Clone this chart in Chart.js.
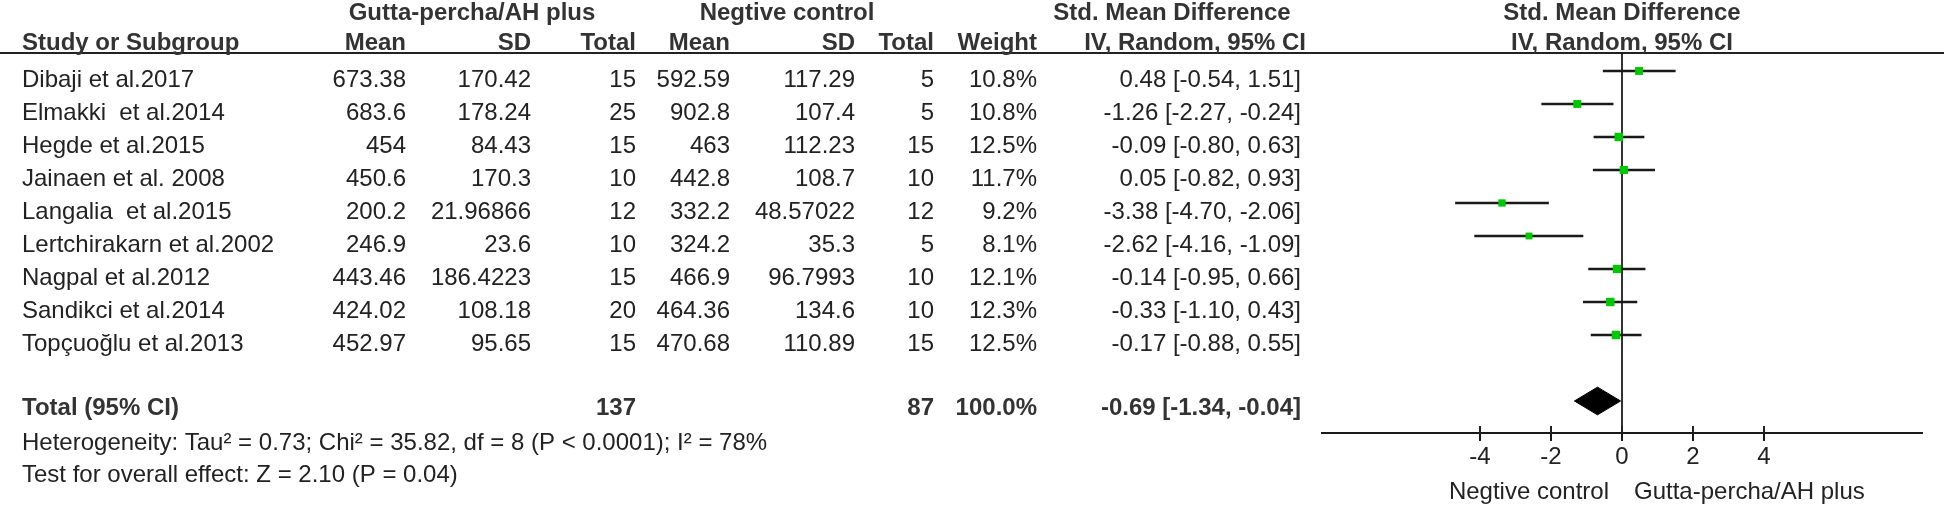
<!DOCTYPE html>
<html>
<head>
<meta charset="utf-8">
<script src="https://cdn.jsdelivr.net/npm/chart.js@4/dist/chart.umd.min.js"></script>
<style>
  html, body { margin: 0; padding: 0; background: #fff; }
  canvas { display: block; }
</style>
</head>
<body>
<canvas id="forest" width="1946" height="505"></canvas>
<script>
// Data
const studies = ['Dibaji et al.2017', 'Elmakki  et al.2014', 'Hegde et al.2015', 'Jainaen et al. 2008',
  'Langalia  et al.2015', 'Lertchirakarn et al.2002', 'Nagpal et al.2012', 'Sandikci et al.2014', 'Topçuoğlu et al.2013'];
const gpMean = ['673.38', '683.6', '454', '450.6', '200.2', '246.9', '443.46', '424.02', '452.97'];
const gpSD = ['170.42', '178.24', '84.43', '170.3', '21.96866', '23.6', '186.4223', '108.18', '95.65'];
const gpTotal = [15, 25, 15, 10, 12, 10, 15, 20, 15];
const ncMean = ['592.59', '902.8', '463', '442.8', '332.2', '324.2', '466.9', '464.36', '470.68'];
const ncSD = ['117.29', '107.4', '112.23', '108.7', '48.57022', '35.3', '96.7993', '134.6', '110.89'];
const ncTotal = [5, 5, 15, 10, 12, 5, 10, 10, 15];
const weights = [10.8, 10.8, 12.5, 11.7, 9.2, 8.1, 12.1, 12.3, 12.5];
const smd = [0.48, -1.26, -0.09, 0.05, -3.38, -2.62, -0.14, -0.33, -0.17];
const ciLow = [-0.54, -2.27, -0.80, -0.82, -4.70, -4.16, -0.95, -1.10, -0.88];
const ciHigh = [1.51, -0.24, 0.63, 0.93, -2.06, -1.09, 0.66, 0.43, 0.55];

const totalGp = 137;
const totalNc = 87;
const totalWeight = 100.0;
const totalSmd = -0.69;
const totalLow = -1.34;
const totalHigh = -0.04;

const heterogeneity = 'Heterogeneity: Tau² = 0.73; Chi² = 35.82, df = 8 (P < 0.0001); I² = 78%';
const overallTest = 'Test for overall effect: Z = 2.10 (P = 0.04)';
const xTicks = [-4, -2, 0, 2, 4];
const leftLabel = 'Negtive control';
const rightLabel = 'Gutta-percha/AH plus';

const FONT = "'Liberation Sans', Arial, sans-serif";
const TOTAL_ROW = 10;

function fmtCI(est, lo, hi) {
  return est.toFixed(2) + ' [' + lo.toFixed(2) + ', ' + hi.toFixed(2) + ']';
}

// CI segments, broken by null points
const ciData = [];
smd.forEach((v, i) => {
  ciData.push({ x: ciLow[i], y: i }, { x: ciHigh[i], y: i }, { x: null, y: null });
});
const pointData = smd.map((v, i) => ({ x: v, y: i }));
const diamondH = 0.42;
const diamondData = [
  { x: totalLow, y: TOTAL_ROW }, { x: totalSmd, y: TOTAL_ROW - diamondH },
  { x: totalHigh, y: TOTAL_ROW }, { x: totalSmd, y: TOTAL_ROW + diamondH },
  { x: totalLow, y: TOTAL_ROW }
];

// table text + extra decorations
const tablePlugin = {
  id: 'tableText',
  afterDraw(chart) {
    const ctx = chart.ctx;
    const xs = chart.scales.x;
    const zeroX = xs.getPixelForValue(0);
    const axisY = chart.chartArea.bottom;
    ctx.save();

    // header rule across the page
    ctx.strokeStyle = '#222';
    ctx.lineWidth = 2;
    ctx.beginPath();
    ctx.moveTo(0, chart.chartArea.top);
    ctx.lineTo(1944, chart.chartArea.top);
    ctx.stroke();

    // tick marks above the axis too
    ctx.beginPath();
    xs.ticks.forEach(t => {
      const px = xs.getPixelForValue(t.value);
      ctx.moveTo(px, axisY - 7);
      ctx.lineTo(px, axisY);
    });
    ctx.stroke();

    // headers
    ctx.fillStyle = '#333';
    ctx.font = 'bold 24px ' + FONT;
    ctx.textBaseline = 'alphabetic';
    ctx.textAlign = 'center';
    ctx.fillText('Gutta-percha/AH plus', 472, 20);
    ctx.fillText('Negtive control', 787, 20);
    ctx.fillText('Std. Mean Difference', 1172, 20);
    ctx.fillText('Std. Mean Difference', zeroX, 20);
    ctx.fillText('IV, Random, 95% CI', zeroX, 50);
    ctx.textAlign = 'left';
    ctx.fillText('Study or Subgroup', 22, 50);
    ctx.textAlign = 'right';
    ctx.fillText('Mean', 406, 50);
    ctx.fillText('SD', 531, 50);
    ctx.fillText('Total', 636, 50);
    ctx.fillText('Mean', 730, 50);
    ctx.fillText('SD', 855, 50);
    ctx.fillText('Total', 934, 50);
    ctx.fillText('Weight', 1037, 50);
    ctx.fillText('IV, Random, 95% CI', 1306, 50);

    // study rows
    ctx.fillStyle = '#222';
    ctx.font = '24px ' + FONT;
    studies.forEach((s, i) => {
      const y = 87 + 33 * i;
      ctx.textAlign = 'left';
      ctx.fillText(s, 22, y);
      ctx.textAlign = 'right';
      ctx.fillText(gpMean[i], 406, y);
      ctx.fillText(gpSD[i], 531, y);
      ctx.fillText(String(gpTotal[i]), 636, y);
      ctx.fillText(ncMean[i], 730, y);
      ctx.fillText(ncSD[i], 855, y);
      ctx.fillText(String(ncTotal[i]), 934, y);
      ctx.fillText(weights[i].toFixed(1) + '%', 1037, y);
      ctx.fillText(fmtCI(smd[i], ciLow[i], ciHigh[i]), 1301, y);
    });

    // total row
    const ty = 415;
    ctx.fillStyle = '#333';
    ctx.font = 'bold 24px ' + FONT;
    ctx.textAlign = 'left';
    ctx.fillText('Total (95% CI)', 22, ty);
    ctx.textAlign = 'right';
    ctx.fillText(String(totalGp), 636, ty);
    ctx.fillText(String(totalNc), 934, ty);
    ctx.fillText(totalWeight.toFixed(1) + '%', 1037, ty);
    ctx.fillText(fmtCI(totalSmd, totalLow, totalHigh), 1301, ty);

    // footnotes
    ctx.fillStyle = '#222';
    ctx.font = '24px ' + FONT;
    ctx.textAlign = 'left';
    ctx.fillText(heterogeneity, 22, 450);
    ctx.fillText(overallTest, 22, 482);

    // favours labels
    ctx.textAlign = 'right';
    ctx.fillText(leftLabel, zeroX - 13, 499);
    ctx.textAlign = 'left';
    ctx.fillText(rightLabel, zeroX + 12, 499);
    ctx.restore();
  }
};

new Chart(document.getElementById('forest'), {
  type: 'scatter',
  data: {
    datasets: [
      {
        data: ciData,
        order: 2,
        showLine: true,
        spanGaps: false,
        borderColor: '#1a1a1a',
        borderWidth: 2.5,
        pointRadius: 0
      },
      {
        data: pointData,
        order: 0,
        pointStyle: 'rect',
        pointRadius: weights.map(w => 6 * Math.sqrt(w / 12.5)),
        backgroundColor: '#00c800',
        borderWidth: 0
      },
      {
        data: diamondData,
        order: 1,
        showLine: true,
        fill: 'shape',
        backgroundColor: '#000',
        borderColor: '#000',
        borderWidth: 1,
        pointRadius: 0,
        tension: 0
      }
    ]
  },
  options: {
    responsive: false,
    animation: false,
    layout: { padding: { left: 1322, right: 24, top: 53, bottom: 0 } },
    plugins: { legend: { display: false }, tooltip: { enabled: false } },
    scales: {
      x: {
        type: 'linear',
        min: -8.45,
        max: 8.45,
        afterBuildTicks: (scale) => { scale.ticks = xTicks.map(v => ({ value: v })); },
        afterFit: (scale) => { scale.height = 72; },
        border: { display: true, color: '#1a1a1a', width: 2 },
        grid: {
          color: (c) => (c.tick && c.tick.value === 0 ? '#333' : 'rgba(0,0,0,0)'),
          lineWidth: 2,
          drawTicks: true,
          tickLength: 8,
          tickColor: '#1a1a1a',
          tickWidth: 2
        },
        ticks: {
          color: '#222',
          font: { family: FONT, size: 24 },
          padding: 2,
          maxRotation: 0,
          callback: (v) => String(v)
        }
      },
      y: {
        type: 'linear',
        display: false,
        reverse: true,
        min: -0.545,
        max: 10.97
      }
    }
  },
  plugins: [tablePlugin]
});
</script>
</body>
</html>
